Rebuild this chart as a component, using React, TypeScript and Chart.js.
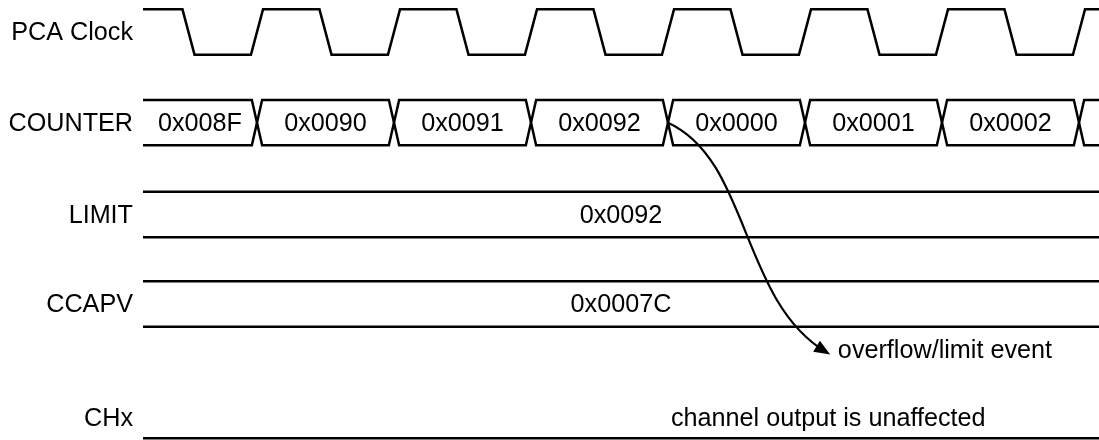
import { useEffect, useRef } from 'react';
import { Chart, registerables } from 'chart.js';

Chart.register(...registerables);

const FONT_FAMILY = '"Liberation Sans", Arial, Helvetica, sans-serif';
const FONT_SIZE = 25.2;
const TEXT_DY = 1.5;
const INK = '#000000';

// ---- rows (y axis: row index, reversed so row 0 is on top)
const rowNames = ['PCA Clock', 'COUNTER', 'LIMIT', 'CCAPV', 'CHx'];
const rowLevels = [0, 1, 2.013, 3, 4.25];
const yRange = [-0.353, 4.5];

// ---- time axis in PCA clock cycles
const timeStart = 0.168;
const timeEnd = 7.146;
const halfHeight = 0.25; // half swing of a waveform / bus, in row units

// ---- PCA clock
const clockEdgeTimes = [0.5, 1, 1.5, 2, 2.5, 3, 3.5, 4, 4.5, 5, 5.5, 6, 6.5, 7];
const clockLevelsAfterEdge = [0, 1, 0, 1, 0, 1, 0, 1, 0, 1, 0, 1, 0, 1];
const clockInitialLevel = 1;
const clockSlew = 0.088;

// ---- COUNTER bus
const counterValues = ['0x008F', '0x0090', '0x0091', '0x0092', '0x0000', '0x0001', '0x0002', ''];
const counterChangeTimes = [1, 2, 3, 4, 5, 6, 7];
const busCrossWidth = 0.075;

// ---- LIMIT / CCAPV buses (constant)
const limitValue = '0x0092';
const ccapvValue = '0x0007C';

// ---- CHx
const chxLevel = 4.481;
const chxNote = 'channel output is unaffected';
const chxNoteX = 5.17;

// ---- overflow event arrow (cubic Bezier control points: time, row)
const eventCurveX = [4.0, 4.599, 4.526, 5.153];
const eventCurveY = [1.0, 1.412, 2.956, 3.529];
const eventLabel = 'overflow/limit event';
const eventLabelAt = [5.24, 3.507];

type Pt = { x: number; y: number };

function levelY(row: number, level: number) {
  return row + (level ? -halfHeight : halfHeight);
}

function buildClock(row: number): Pt[] {
  const pts: Pt[] = [];
  let level = clockInitialLevel;
  pts.push({ x: timeStart, y: levelY(row, level) });
  clockEdgeTimes.forEach((t, i) => {
    pts.push({ x: t - clockSlew / 2, y: levelY(row, level) });
    level = clockLevelsAfterEdge[i];
    pts.push({ x: t + clockSlew / 2, y: levelY(row, level) });
  });
  pts.push({ x: timeEnd, y: levelY(row, level) });
  return pts;
}

function buildBus(row: number, changes: number[]): [Pt[], Pt[]] {
  const a: Pt[] = [];
  const b: Pt[] = [];
  let side = -1;
  a.push({ x: timeStart, y: row + side * halfHeight });
  b.push({ x: timeStart, y: row - side * halfHeight });
  changes.forEach((t) => {
    a.push({ x: t - busCrossWidth / 2, y: row + side * halfHeight });
    b.push({ x: t - busCrossWidth / 2, y: row - side * halfHeight });
    side = -side;
    a.push({ x: t + busCrossWidth / 2, y: row + side * halfHeight });
    b.push({ x: t + busCrossWidth / 2, y: row - side * halfHeight });
  });
  a.push({ x: timeEnd, y: row + side * halfHeight });
  b.push({ x: timeEnd, y: row - side * halfHeight });
  return [a, b];
}

function flat(y: number): Pt[] {
  return [
    { x: timeStart, y },
    { x: timeEnd, y },
  ];
}

const lineStyle = {
  borderColor: INK,
  borderWidth: 2.5,
  pointRadius: 0,
  tension: 0,
  showLine: true,
  fill: false,
  borderJoinStyle: 'miter' as const,
  clip: false as any,
};

const annotationPlugin = {
  id: 'timingText',
  afterDatasetsDraw(chart: any) {
    const { ctx, scales } = chart;
    const xs = scales.x;
    const ys = scales.y;
    const px = (v: number) => xs.getPixelForValue(v);
    const py = (v: number) => ys.getPixelForValue(v);
    ctx.save();
    ctx.fillStyle = INK;
    ctx.font = `${FONT_SIZE}px ${FONT_FAMILY}`;
    ctx.textBaseline = 'middle';
    ctx.textAlign = 'center';

    // counter values
    const bounds = [timeStart, ...counterChangeTimes, timeEnd];
    counterValues.forEach((v, i) => {
      if (!v) return;
      ctx.fillText(v, px((bounds[i] + bounds[i + 1]) / 2), py(rowLevels[1]) + TEXT_DY);
    });
    const mid = (timeStart + timeEnd) / 2;
    ctx.fillText(limitValue, px(mid), py(rowLevels[2]) + TEXT_DY);
    ctx.fillText(ccapvValue, px(mid), py(rowLevels[3]) + TEXT_DY);
    ctx.fillText(chxNote, px(chxNoteX), py(rowLevels[4]) + TEXT_DY);

    ctx.textAlign = 'left';
    ctx.fillText(eventLabel, px(eventLabelAt[0]), py(eventLabelAt[1]) + TEXT_DY);

    // event arrow
    const P = eventCurveX.map((x, i) => [px(x), py(eventCurveY[i])]);
    ctx.strokeStyle = INK;
    ctx.lineWidth = 2.2;
    ctx.beginPath();
    ctx.moveTo(P[0][0], P[0][1]);
    ctx.bezierCurveTo(P[1][0], P[1][1], P[2][0], P[2][1], P[3][0], P[3][1]);
    ctx.stroke();
    const dx = P[3][0] - P[2][0];
    const dy = P[3][1] - P[2][1];
    const len = Math.hypot(dx, dy);
    const ux = dx / len;
    const uy = dy / len;
    const tipX = P[3][0] + ux * 5;
    const tipY = P[3][1] + uy * 5;
    const L = 16;
    const W = 6.5;
    ctx.beginPath();
    ctx.moveTo(tipX, tipY);
    ctx.lineTo(tipX - ux * L - uy * W, tipY - uy * L + ux * W);
    ctx.lineTo(tipX - ux * L + uy * W, tipY - uy * L - ux * W);
    ctx.closePath();
    ctx.fill();
    ctx.restore();
  },
};

export default function App() {
  const canvasRef = useRef<HTMLCanvasElement | null>(null);

  useEffect(() => {
    const canvas = canvasRef.current;
    if (!canvas) return;
    const [counterA, counterB] = buildBus(rowLevels[1], counterChangeTimes);
    const datasets = [
      { label: 'PCA Clock', data: buildClock(rowLevels[0]), ...lineStyle },
      { label: 'COUNTER a', data: counterA, ...lineStyle },
      { label: 'COUNTER b', data: counterB, ...lineStyle },
      { label: 'LIMIT top', data: flat(rowLevels[2] - halfHeight), ...lineStyle },
      { label: 'LIMIT bottom', data: flat(rowLevels[2] + halfHeight), ...lineStyle },
      { label: 'CCAPV top', data: flat(rowLevels[3] - halfHeight), ...lineStyle },
      { label: 'CCAPV bottom', data: flat(rowLevels[3] + halfHeight), ...lineStyle },
      { label: 'CHx', data: flat(chxLevel), ...lineStyle },
    ];
    const chart = new Chart(canvas, {
      type: 'scatter',
      data: { datasets },
      options: {
        animation: false,
        responsive: false,
        devicePixelRatio: 1,
        events: [],
        layout: { padding: 0 },
        plugins: {
          legend: { display: false },
          tooltip: { enabled: false },
          title: { display: false },
        },
        scales: {
          x: {
            type: 'linear',
            min: timeStart,
            max: timeEnd,
            display: false,
          },
          y: {
            type: 'linear',
            reverse: true,
            min: yRange[0],
            max: yRange[1],
            grid: { display: false, drawTicks: false },
            border: { display: false },
            ticks: {
              padding: 10,
              labelOffset: TEXT_DY,
              color: INK,
              font: { family: FONT_FAMILY, size: FONT_SIZE },
              callback: (_v: any, i: number) => rowNames[i],
            },
            afterBuildTicks: (scale: any) => {
              scale.ticks = rowLevels.map((v) => ({ value: v }));
            },
            afterFit: (scale: any) => {
              scale.width = 143;
              scale.paddingTop = 0;
              scale.paddingBottom = 0;
            },
          },
        },
      } as any,
      plugins: [annotationPlugin],
    });
    return () => chart.destroy();
  }, []);

  return (
    <div style={{ position: 'fixed', left: 0, top: 0, width: 1099, height: 440, background: '#fff' }}>
      <canvas ref={canvasRef} width={1099} height={440} style={{ display: 'block', width: 1099, height: 440 }} />
    </div>
  );
}
